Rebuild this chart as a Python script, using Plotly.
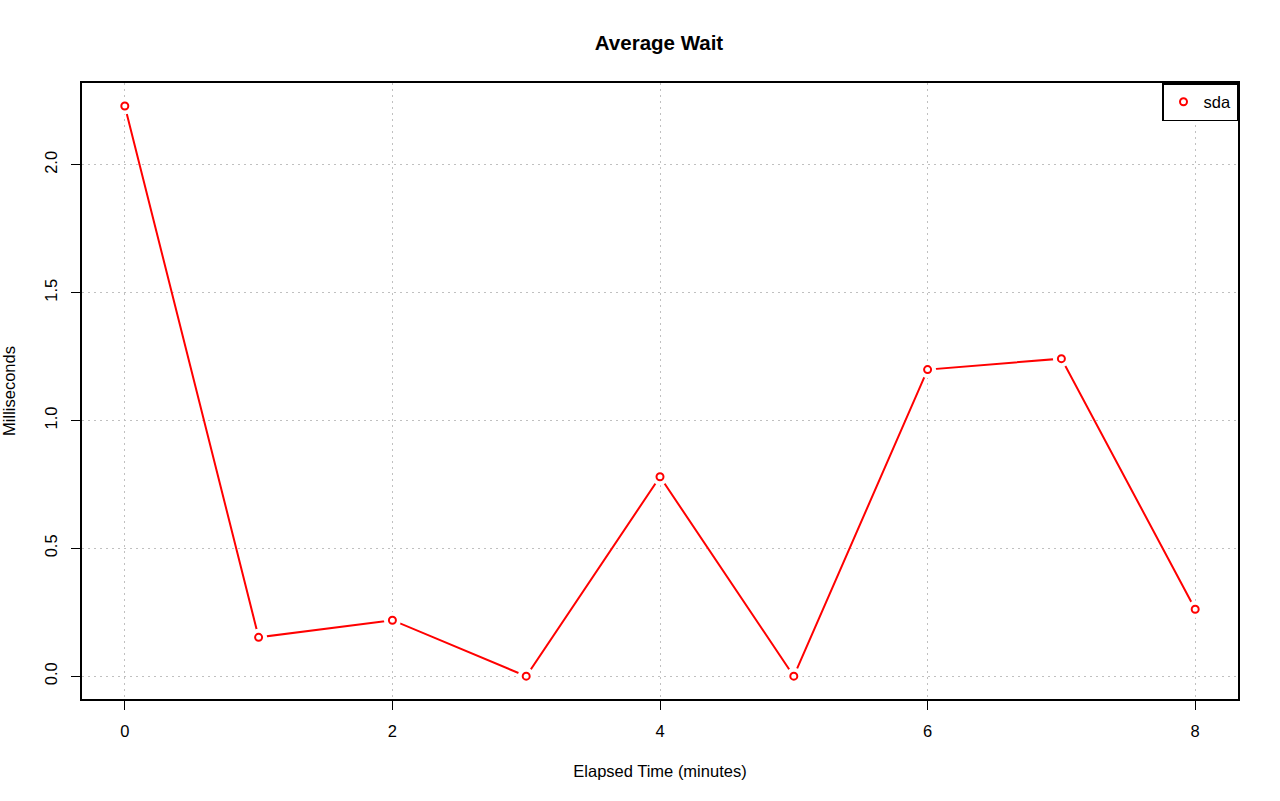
import plotly.graph_objects as go

minutes = [0, 1, 2, 3, 4, 5, 6, 7, 8]
wait_ms = [2.23, 0.152, 0.219, 0.0, 0.78, 0.0, 1.199, 1.242, 0.262]
series_name = "sda"
x_ticks = [0, 2, 4, 6, 8]
y_ticks = [0.0, 0.5, 1.0, 1.5, 2.0]
y_tick_text = ["0.0", "0.5", "1.0", "1.5", "2.0"]

font = "Liberation Sans, Arial, Helvetica, sans-serif"
FS = 16.5

fig = go.Figure()
fig.add_trace(go.Scatter(x=minutes, y=wait_ms, mode="lines",
                         line=dict(color="#ff0000", width=2), showlegend=False,
                         hoverinfo="skip"))
fig.add_trace(go.Scatter(x=minutes, y=wait_ms, mode="markers",
                         marker=dict(symbol="circle", size=17, color="white",
                                     line=dict(width=0)),
                         showlegend=False, hoverinfo="skip"))
fig.add_trace(go.Scatter(x=minutes, y=wait_ms, mode="markers", name=series_name,
                         marker=dict(symbol="circle-open", size=7, color="#ff0000",
                                     line=dict(width=2, color="#ff0000"))))

fig.update_layout(
    width=1280, height=801,
    paper_bgcolor="white", plot_bgcolor="white",
    margin=dict(l=82, r=42, t=83, b=102, autoexpand=False),
    font=dict(family=font, size=FS, color="black"),
    title=dict(text="<b>Average Wait</b>", x=659 / 1280, xanchor="center",
               y=1 - 43 / 801, yanchor="middle", font=dict(size=20.5),
               automargin=False),
    showlegend=True,
    legend=dict(x=1, y=1, xanchor="right", yanchor="top",
                bordercolor="black", borderwidth=1.5, bgcolor="white",
                font=dict(size=FS), itemwidth=30, tracegroupgap=0),
)
grid = dict(showgrid=True, gridcolor="#c0c0c0", griddash="1.5px,4.5px", gridwidth=1.3,
            zeroline=False, ticks="outside", ticklen=9, tickwidth=1.3,
            tickcolor="black", showline=True, linecolor="black", linewidth=1.8,
            mirror=True, automargin=False)
fig.update_xaxes(range=[-0.32, 8.32], tickvals=x_ticks, ticklabelstandoff=7,
                 title=dict(text="Elapsed Time (minutes)", standoff=27,
                            font=dict(size=FS)), **grid)
fig.update_yaxes(range=[-0.0892, 2.32], tickvals=y_ticks, ticktext=y_tick_text,
                 tickangle=-90, ticklabelstandoff=8,
                 title=dict(text="Milliseconds", standoff=27, font=dict(size=FS)),
                 **grid)

fig.write_html("out.html", config={"displayModeBar": False},
               post_script="document.body.style.margin='0';document.body.style.overflow='hidden';")
